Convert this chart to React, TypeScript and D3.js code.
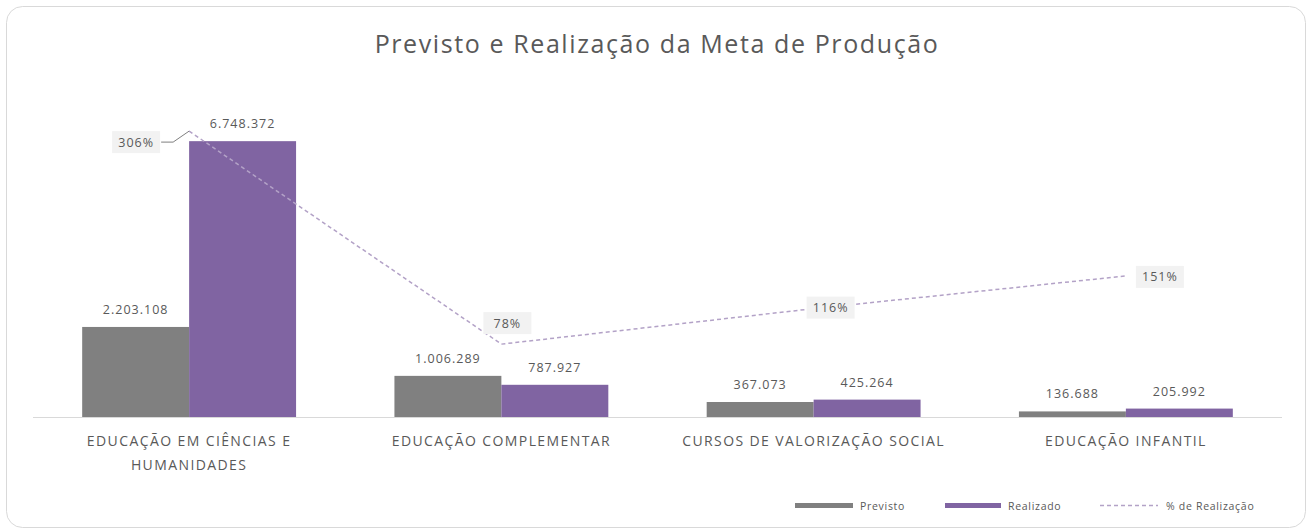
import React from "react";
import * as d3 from "d3";

const categories = [
  ["EDUCAÇÃO EM CIÊNCIAS E", "HUMANIDADES"],
  ["EDUCAÇÃO COMPLEMENTAR"],
  ["CURSOS DE VALORIZAÇÃO SOCIAL"],
  ["EDUCAÇÃO INFANTIL"],
];
const previsto = [2203108, 1006289, 367073, 136688];
const realizado = [6748372, 787927, 425264, 205992];
const percent = [3.06, 0.78, 1.16, 1.51];
const percentLabels = ["306%", "78%", "116%", "151%"];
const seriesNames = ["Previsto", "Realizado", "% de Realização"];

const W = 1312, H = 531;
const FONT = "'Open Sans', 'Noto Sans', sans-serif";
const TXT = "#595959";
const GREY = "#808080";
const PURPLE = "#8064a2";
const LINE = "#b3a2c7";

const fmt = (v: number) => d3.format(",")(v).replace(/,/g, ".");

export default function App() {
  const x0 = d3.scaleBand().domain(categories.map((_, i) => String(i))).range([33, 1282]).paddingInner(0.315).paddingOuter(0.1575);
  const x1 = d3.scaleBand().domain(["p", "r"]).range([0, x0.bandwidth()]);
  const y = d3.scaleLinear().domain([0, 8000000]).range([417, 90]);
  const y2 = d3.scaleLinear().domain([0, 3.5]).range([417, 90]);
  const cx = (i: number) => (x0(String(i)) as number) + x0.bandwidth() / 2;
  const line = d3.line<number>().x((_, i) => cx(i)).y((d) => y2(d));

  const labelOff = [
    { dx: -53, dy: 11, leader: true },
    { dx: 6, dy: -21 },
    { dx: 17, dy: -1 },
    { dx: 34, dy: 1 },
  ];

  return (
    <svg width={W} height={H} style={{ position: "absolute", left: 0, top: 0, background: "#fff" }} fontFamily={FONT}>
      <rect x={6.5} y={6.5} width={1299} height={521} rx={16} fill="#fff" stroke="#d9d9d9" />
      <text x={657} y={53} textAnchor="middle" fontSize={25} letterSpacing={1.6} fill={TXT}>
        Previsto e Realização da Meta de Produção
      </text>
      <line x1={33} x2={1282} y1={417.5} y2={417.5} stroke="#d9d9d9" strokeWidth={1} />
      {categories.map((c, i) => {
        const bx = x0(String(i)) as number;
        const px = bx + (x1("p") as number);
        const rx = bx + (x1("r") as number);
        const bw = x1.bandwidth();
        return (
          <g key={i}>
            <rect x={px} y={y(previsto[i])} width={bw} height={417 - y(previsto[i])} fill={GREY} />
            <rect x={rx} y={y(realizado[i])} width={bw} height={417 - y(realizado[i])} fill={PURPLE} />
            <text x={px + bw / 2} y={y(previsto[i]) - 13} textAnchor="middle" fontSize={12.5} letterSpacing={1} fill={TXT}>{fmt(previsto[i])}</text>
            <text x={rx + bw / 2} y={y(realizado[i]) - 13} textAnchor="middle" fontSize={12.5} letterSpacing={1} fill={TXT}>{fmt(realizado[i])}</text>
            {c.map((l, j) => (
              <text key={j} x={cx(i)} y={446 + j * 24} textAnchor="middle" fontSize={14} letterSpacing={1.4} fill={TXT}>{l}</text>
            ))}
          </g>
        );
      })}
      <path d={line(percent) || ""} fill="none" stroke={LINE} strokeWidth={1.5} strokeDasharray="4,3" />
      {percent.map((p, i) => {
        const o = labelOff[i];
        const lx = cx(i) + o.dx;
        const ly = y2(p) + o.dy;
        return (
          <g key={i}>
            {o.leader && (
              <polyline points={`${lx + 25},${ly} ${lx + 37},${ly} ${cx(i)},${y2(p)}`} fill="none" stroke="#7f7f7f" strokeWidth={1} />
            )}
            <rect x={lx - 24} y={ly - 11} width={48} height={22} fill="#f2f2f2" />
            <text x={lx} y={ly + 4.5} textAnchor="middle" fontSize={12.5} letterSpacing={1} fill={TXT}>{percentLabels[i]}</text>
          </g>
        );
      })}
      <g fontSize={10.5} letterSpacing={0.7} fill={TXT}>
        <rect x={795} y={503} width={58} height={5} fill={GREY} />
        <text x={860} y={510}>{seriesNames[0]}</text>
        <rect x={945} y={503} width={56} height={5} fill={PURPLE} />
        <text x={1008} y={510}>{seriesNames[1]}</text>
        <line x1={1100} x2={1158} y1={505.5} y2={505.5} stroke={LINE} strokeWidth={1.5} strokeDasharray="4,3" />
        <text x={1166} y={510}>{seriesNames[2]}</text>
      </g>
    </svg>
  );
}
